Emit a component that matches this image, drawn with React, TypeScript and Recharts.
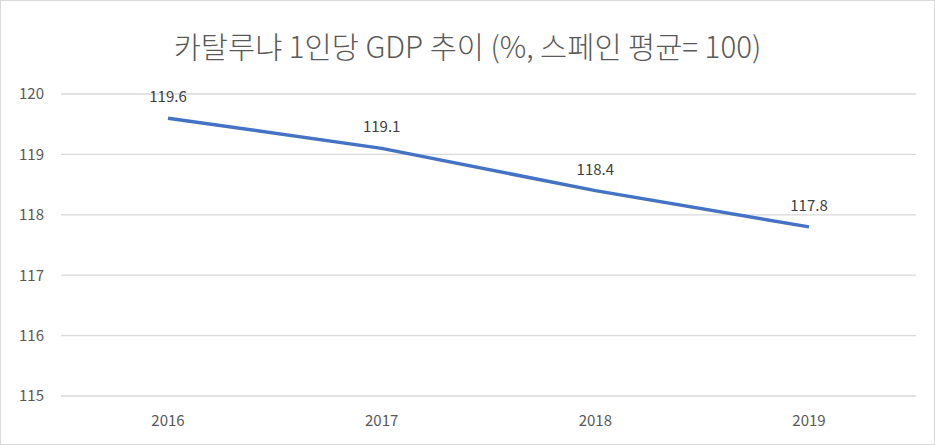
import React from 'react';
import { LineChart, Line, XAxis, YAxis, CartesianGrid, LabelList } from 'recharts';

// 카탈루냐 1인당 GDP (스페인 평균 = 100)
const YEARS = ['2016', '2017', '2018', '2019'];
const GDP_INDEX = [119.6, 119.1, 118.4, 117.8];
const Y_TICKS = [115, 116, 117, 118, 119, 120];

const DATA = YEARS.map((year, i) => ({ year, value: GDP_INDEX[i] }));

const FONT = '"Noto Sans CJK KR", "Noto Sans", sans-serif';

export default function App() {
  return (
    <div
      style={{
        position: 'absolute',
        left: 0,
        top: 0,
        width: 935,
        height: 445,
        boxSizing: 'border-box',
        border: '1px solid #d9d9d9',
        background: '#fff',
        fontFamily: FONT,
      }}
    >
      {/* 제목 */}
      <div
        style={{
          position: 'absolute',
          top: 23,
          left: 0,
          width: '100%',
          textAlign: 'center',
          fontSize: 29.5,
          fontWeight: 300,
          color: '#595959',
          lineHeight: '42px',
        }}
      >
        카탈루냐 1인당 GDP 추이 (%, 스페인 평균= 100)
      </div>

      <div style={{ position: 'absolute', left: -1, top: -1 }}>
        <LineChart width={935} height={445} data={DATA} margin={{ top: 94, right: 19, bottom: 0, left: 0 }}>
          <CartesianGrid vertical={false} stroke="#d9d9d9" strokeWidth={1.3} />
          <XAxis
            dataKey="year"
            axisLine={false}
            tickLine={false}
            tickSize={0}
            tickMargin={19}
            height={49}
            padding={{ left: 107, right: 107 }}
            tick={{ fill: '#595959', fontSize: 15, fontFamily: FONT }}
          />
          <YAxis
            domain={[115, 120]}
            ticks={Y_TICKS}
            axisLine={false}
            tickLine={false}
            tickSize={0}
            tickMargin={17}
            width={61}
            tick={{ fill: '#595959', fontSize: 15, fontFamily: FONT }}
          />
          <Line
            type="linear"
            dataKey="value"
            stroke="#4472C4"
            strokeWidth={3.5}
            dot={false}
            isAnimationActive={false}
          >
            <LabelList
              dataKey="value"
              position="top"
              offset={16}
              fill="#404040"
              fontSize={15}
              fontFamily={FONT}
              formatter={(v: number) => v.toFixed(1)}
            />
          </Line>
        </LineChart>
      </div>
    </div>
  );
}
